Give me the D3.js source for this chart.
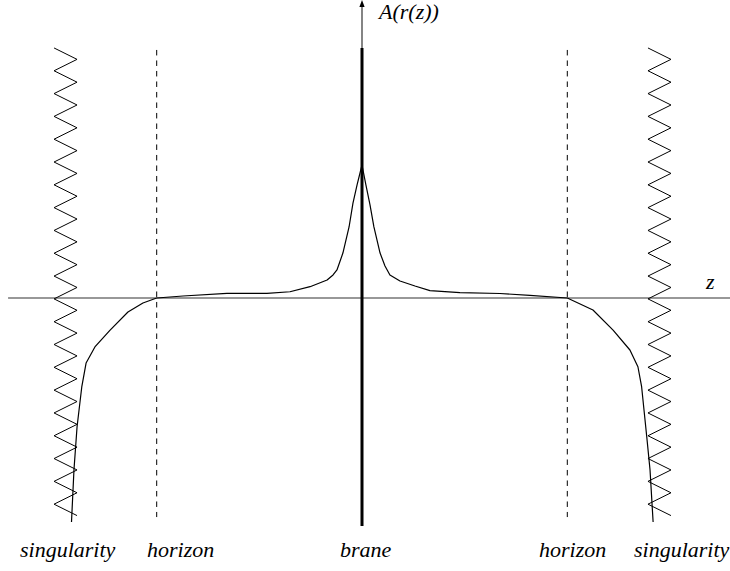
<!DOCTYPE html>
<html>
<head>
<meta charset="utf-8">
<script src="https://cdn.jsdelivr.net/npm/d3@7"></script>
<style>
  html, body { margin: 0; padding: 0; background: #fff; }
  svg { display: block; }
</style>
</head>
<body>
<svg id="chart" width="730" height="571"></svg>
<script>
// ---- data (z in horizon units, A normalised to brane peak) ----
const curveLeftZ  = [-1.415, -1.403, -1.388, -1.365, -1.344, -1.301, -1.227, -1.140, -1.067, -1.0, -0.872, -0.658, -0.463, -0.351, -0.253, -0.170, -0.141, -0.122, -0.093, -0.063, -0.044, -0.024, 0];
const curveLeftA  = [-1.684, -1.293, -0.970, -0.669, -0.489, -0.368, -0.241, -0.105, -0.038, 0, 0.015, 0.035, 0.035, 0.047, 0.085, 0.135, 0.173, 0.211, 0.338, 0.534, 0.714, 0.850, 1.0];
const curveRightZ = [0, 0.019, 0.039, 0.058, 0.088, 0.112, 0.136, 0.185, 0.258, 0.331, 0.477, 0.672, 0.818, 1.0, 1.125, 1.223, 1.305, 1.344, 1.362, 1.387, 1.403, 1.418];
const curveRightA = [1.0, 0.850, 0.700, 0.534, 0.338, 0.241, 0.173, 0.128, 0.090, 0.056, 0.041, 0.034, 0.019, 0, -0.090, -0.241, -0.391, -0.517, -0.667, -1.043, -1.293, -1.684];

const horizonZ = [-1, 1];
const horizonA = [1.865, -1.647];           // top / bottom of dashed lines
const singularityZ = [-1.5, 1.393];          // inner edge (left vertices) of each zigzag
const toothWidth = 0.112;
const zigzagA = [1.88, -1.636];              // top / bottom of zigzag
const halfTeeth = 41;

const axisZ = [-1.724, 1.793];
const axisA = [2.24, -1.714];
const braneThickTopA = 1.88;

const bottomLabels = ["singularity", "horizon", "brane", "horizon", "singularity"];
const yLabel = "A(r(z))";
const xLabel = "z";

// ---- scales ----
const x = d3.scaleLinear().domain([-1, 1]).range([156.7, 567.3]);
const y = d3.scaleLinear().domain([0, 1]).range([298, 165]);

const svg = d3.select("#chart");
const line = d3.line().x(d => x(d[0])).y(d => y(d[1]));

// labels first
function label(txt, lx, ly) {
  return svg.append("text")
    .attr("x", lx).attr("y", ly)
    .style("font-family", "Liberation Serif")
    .style("font-style", "italic")
    .style("font-size", "22px")
    .text(txt);
}
label(yLabel, 379, 19);
label(xLabel, 706, 289);
const labelX = [20, 147, 340, 539, 634];
bottomLabels.forEach((t, i) => label(t, labelX[i], 557));

// horizontal axis
svg.append("line")
  .attr("x1", x(axisZ[0])).attr("x2", x(axisZ[1]))
  .attr("y1", y(0)).attr("y2", y(0))
  .attr("stroke", "#333").attr("stroke-width", 1.2);

// vertical axis: thin part with arrow, thick brane
svg.append("line")
  .attr("x1", x(0)).attr("x2", x(0))
  .attr("y1", y(axisA[0]) + 5).attr("y2", y(braneThickTopA))
  .attr("stroke", "#333").attr("stroke-width", 1.2);
svg.append("path")
  .attr("d", `M${x(0)},${y(axisA[0])} L${x(0) - 2.6},${y(axisA[0]) + 7} L${x(0) + 2.6},${y(axisA[0]) + 7} Z`)
  .attr("fill", "#000");
svg.append("line")
  .attr("x1", x(0)).attr("x2", x(0))
  .attr("y1", y(braneThickTopA)).attr("y2", y(axisA[1]))
  .attr("stroke", "#000").attr("stroke-width", 3);

// horizons (dashed)
horizonZ.forEach(z => {
  svg.append("line")
    .attr("x1", x(z)).attr("x2", x(z))
    .attr("y1", y(horizonA[0])).attr("y2", y(horizonA[1]))
    .attr("stroke", "#000").attr("stroke-width", 1)
    .attr("stroke-dasharray", "5.5,5");
});

// singularities (zigzag)
const step = (zigzagA[0] - zigzagA[1]) / halfTeeth;
singularityZ.forEach(z0 => {
  const pts = d3.range(halfTeeth + 1).map(i => [i % 2 === 0 ? z0 : z0 + toothWidth, zigzagA[0] - i * step]);
  svg.append("path")
    .attr("d", line(pts))
    .attr("fill", "none").attr("stroke", "#000").attr("stroke-width", 1);
});

// curve
const leftPts = curveLeftZ.map((z, i) => [z, curveLeftA[i]]);
const rightPts = curveRightZ.map((z, i) => [z, curveRightA[i]]);
svg.append("path")
  .attr("d", line(leftPts.concat(rightPts.slice(1))))
  .attr("fill", "none").attr("stroke", "#000").attr("stroke-width", 1.2)
  .attr("stroke-linejoin", "round");
</script>
</body>
</html>
